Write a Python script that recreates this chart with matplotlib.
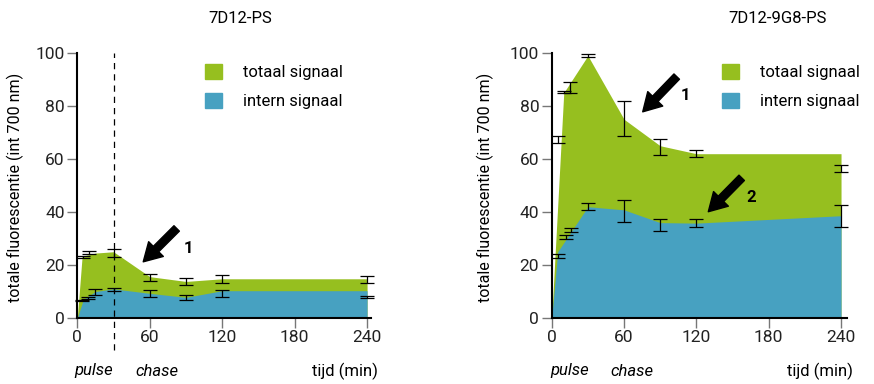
import numpy as np
import matplotlib.pyplot as plt
from matplotlib.patches import Patch

plt.rcParams.update({
    "font.family": ["Roboto", "DejaVu Sans"],
    "font.size": 12,
})

GREEN = "#96bf1f"
BLUE = "#47a1c1"

# ---- 7D12-PS (left) ----
left_tot_t = [0, 4, 15, 30, 60, 90, 120, 240]
left_tot_v = [0, 23.3, 24.5, 25, 15.6, 13.8, 14.8, 14.8]
left_int_t = [0, 5, 15, 30, 60, 90, 120, 240]
left_int_v = [0, 7, 10, 11, 9.3, 7.8, 10.3, 10.3]

left_tot_err_t = [5, 10, 30, 60, 90, 120, 240]
left_tot_err_v = [23.1, 24.8, 24.5, 15.3, 13.8, 14.8, 14.5]
left_tot_err_e = [0.45, 0.6, 1.4, 1.3, 1.4, 1.5, 1.4]
left_int_err_t = [4, 9, 15, 30, 60, 90, 120, 240]
left_int_err_v = [6.6, 7.6, 9.8, 10.9, 9.2, 7.7, 9.2, 8.0]
left_int_err_e = [0.3, 0.4, 1.25, 0.6, 1.4, 0.8, 1.4, 0.3]

# ---- 7D12-9G8-PS (right) ----
right_tot_t = [0, 10, 30, 60, 90, 120, 240]
right_tot_v = [0, 85, 99, 75, 65, 62, 62]
right_int_t = [0, 5, 30, 60, 90, 120, 240]
right_int_v = [0, 25, 42, 40.8, 36, 35.8, 38.6]

right_tot_err_t = [5, 10, 15, 30, 60, 90, 120, 240]
right_tot_err_v = [67.4, 85.2, 87.0, 99.2, 75.3, 64.6, 62.2, 56.4]
right_tot_err_e = [1.4, 0.3, 2.2, 0.6, 6.5, 3.1, 1.3, 1.4]
right_int_err_t = [5, 12, 16, 30, 60, 90, 120, 240]
right_int_err_v = [23.3, 30.6, 33.1, 42.0, 40.4, 35.1, 35.9, 38.5]
right_int_err_e = [0.75, 0.75, 0.75, 1.25, 4.2, 2.3, 1.4, 4.0]

pulse_end = 30
xticks = [0, 60, 120, 180, 240]
yticks = [0, 20, 40, 60, 80, 100]

W, H = 874, 384
fig = plt.figure(figsize=(W / 100, H / 100), dpi=100)
ax1 = fig.add_axes([77.3 / W, 66 / H, 293.4 / W, 265 / H])
ax2 = fig.add_axes([551.7 / W, 66 / H, 295 / W, 265 / H])


def style(ax, xmax):
    ax.set_xlim(0, xmax)
    ax.set_ylim(0, 100)
    ax.set_xticks(xticks)
    ax.set_yticks(yticks)
    for s in ["top", "right"]:
        ax.spines[s].set_visible(False)
    for s in ["left", "bottom"]:
        ax.spines[s].set_linewidth(1.5)
        ax.spines[s].set_color("black")
    ax.tick_params(length=7, width=1, color="#777777", labelsize=12.5,
                   labelcolor="#222222", pad=2)
    ax.set_ylabel("totale fluorescentie (int 700 nm)", fontsize=11.5)


def panel(ax, tot_t, tot_v, int_t, int_v, et1, ev1, ee1, et2, ev2, ee2):
    ax.fill_between(tot_t, 0, tot_v, color=GREEN, lw=0, zorder=1)
    ax.fill_between(int_t, 0, int_v, color=BLUE, lw=0, zorder=2)
    for t, v, e in [(et1, ev1, ee1), (et2, ev2, ee2)]:
        ax.errorbar(t, v, yerr=e, fmt="none", ecolor="black", elinewidth=0.9,
                    capsize=5, capthick=0.9, zorder=3, clip_on=False)
    ax.legend(handles=[Patch(color=GREEN, label="totaal signaal"),
                       Patch(color=BLUE, label="intern signaal")],
              loc="upper left", frameon=False, borderpad=0, borderaxespad=0,
              handlelength=1.05, handleheight=1.05, handletextpad=1.25,
              labelspacing=0.75, fontsize=12)


style(ax1, 243)
style(ax2, 244.7)
panel(ax1, left_tot_t, left_tot_v, left_int_t, left_int_v,
      left_tot_err_t, left_tot_err_v, left_tot_err_e,
      left_int_err_t, left_int_err_v, left_int_err_e)
panel(ax2, right_tot_t, right_tot_v, right_int_t, right_int_v,
      right_tot_err_t, right_tot_err_v, right_tot_err_e,
      right_int_err_t, right_int_err_v, right_int_err_e)

ax1.get_legend().set_bbox_to_anchor((0.435, 0.959), transform=ax1.transAxes)
ax2.get_legend().set_bbox_to_anchor((0.576, 0.959), transform=ax2.transAxes)

ax1.axvline(pulse_end, ymin=-0.12, ymax=1.0, color="black", lw=0.9,
            ls=(0, (5, 4)), clip_on=False, zorder=4)

ax1.yaxis.set_label_coords(-0.182, 0.494)
ax2.yaxis.set_label_coords(-0.196, 0.494)

# titles and axis notes
ax1.text(134.8, 1.132, "7D12-PS", transform=ax1.get_xaxis_transform(),
         ha="center", va="center", fontsize=12)
ax2.text(187.7, 1.132, "7D12-9G8-PS", transform=ax2.get_xaxis_transform(),
         ha="center", va="center", fontsize=12)
for ax, xs in [(ax1, (13.8, 66, 221.4)), (ax2, (14.5, 66.6, 222.6))]:
    tr = ax.get_xaxis_transform()
    ax.text(xs[0], -0.2, "pulse", style="italic", transform=tr,
            ha="center", va="center", fontsize=12)
    ax.text(xs[1], -0.2, "chase", style="italic", transform=tr,
            ha="center", va="center", fontsize=12)
    ax.text(xs[2], -0.2, "tijd (min)", transform=tr,
            ha="center", va="center", fontsize=12)

arrow = dict(facecolor="black", edgecolor="black", width=5.5,
             headwidth=15, headlength=13, shrink=0)
ax1.annotate("", xy=(54.6, 21.2), xytext=(82.3, 33.8), arrowprops=arrow)
ax1.text(91.9, 26.3, "1", fontweight="bold", ha="center", va="center", fontsize=12)
ax2.annotate("", xy=(75.5, 77.8), xytext=(103.7, 91.1), arrowprops=arrow)
ax2.text(110.6, 83.8, "1", fontweight="bold", ha="center", va="center", fontsize=12)
ax2.annotate("", xy=(129.9, 40.1), xytext=(157.6, 52.9), arrowprops=arrow)
ax2.text(165.3, 45.5, "2", fontweight="bold", ha="center", va="center", fontsize=12)

fig.savefig("out.png", dpi=100)
